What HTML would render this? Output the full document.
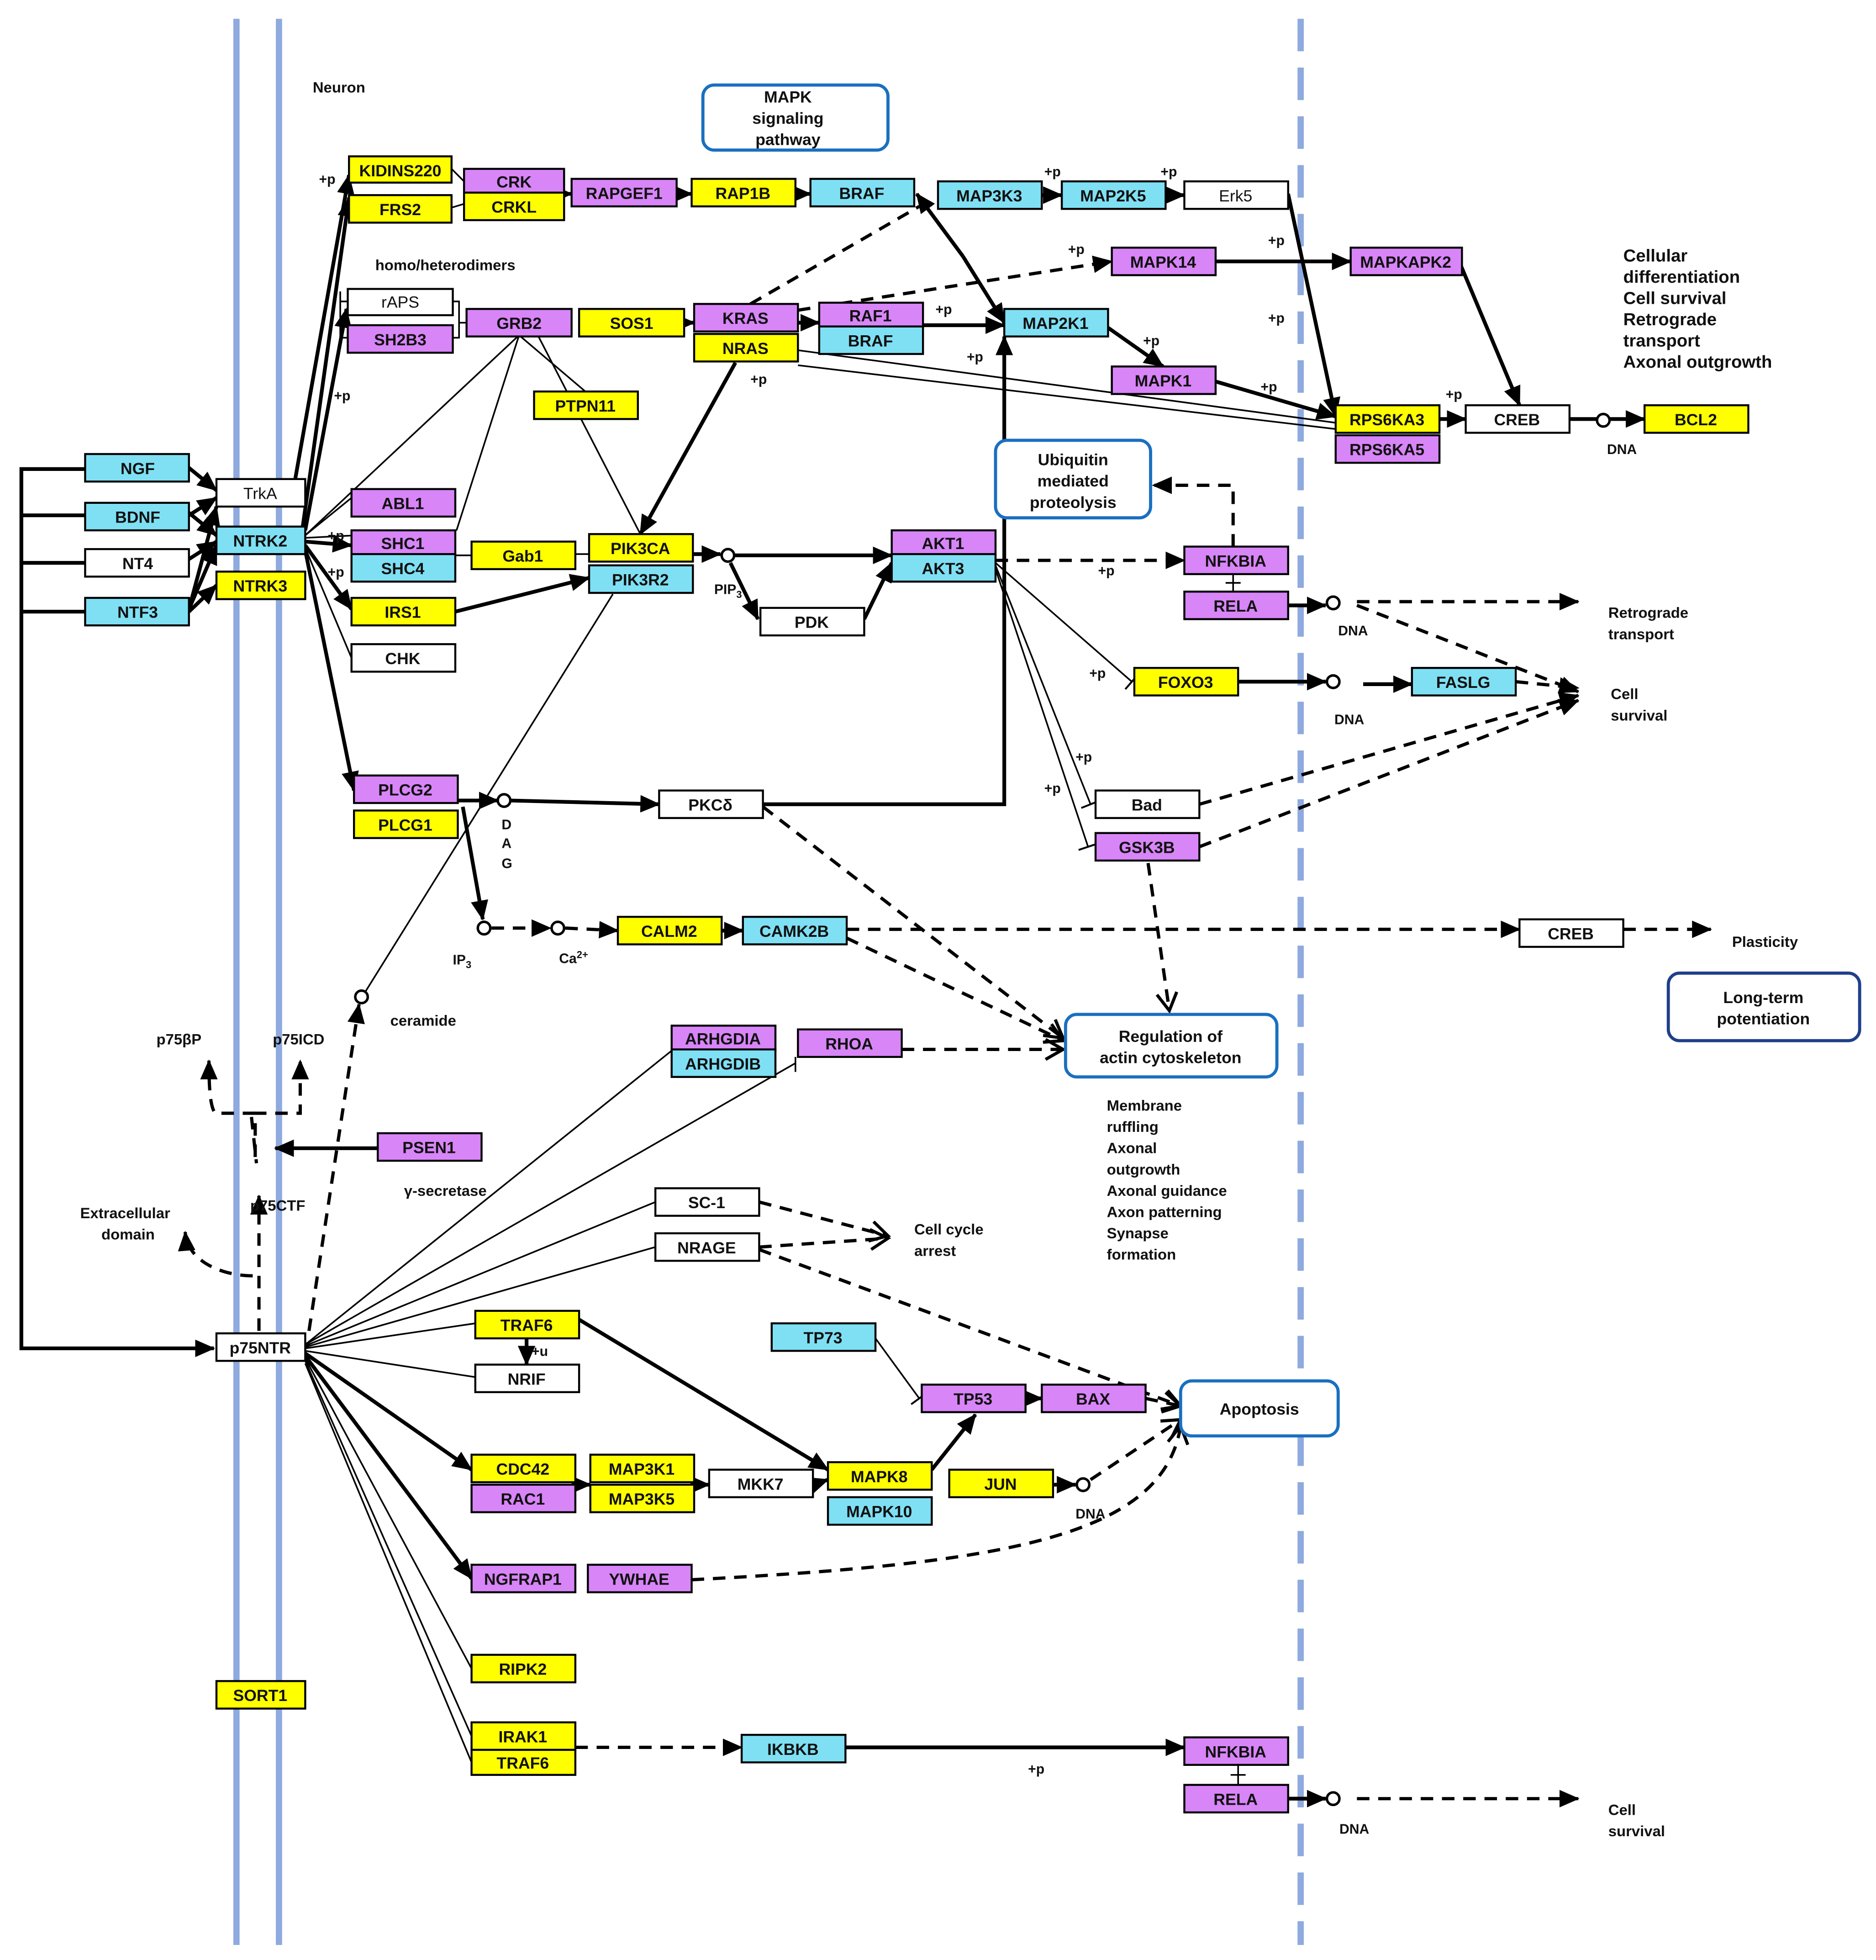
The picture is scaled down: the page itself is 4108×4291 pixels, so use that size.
<!DOCTYPE html>
<html><head><meta charset="utf-8"><style>
html,body{margin:0;padding:0;background:#fff}
svg{display:block}
text{font-family:"Liberation Sans",Arial,sans-serif;font-weight:bold;fill:#111}
.n{font-size:13px;text-anchor:middle}
.l{font-size:14px}
.s{font-size:12px}
.e{fill:none;stroke:#000;stroke-width:1.3}
.t{fill:none;stroke:#000;stroke-width:3}
.d{fill:none;stroke:#000;stroke-width:2.6;stroke-dasharray:10,7}
</style></head><body>
<svg width="4108" height="4291" viewBox="0 0 1500 1567" xmlns="http://www.w3.org/2000/svg">
<defs>
<marker id="a" markerUnits="userSpaceOnUse" markerWidth="16" markerHeight="14" refX="15" refY="7" orient="auto"><path d="M0,0 L16,7 L0,14 z" fill="#000"/></marker>
<marker id="v" markerUnits="userSpaceOnUse" markerWidth="18" markerHeight="18" refX="15" refY="9" orient="auto"><path d="M1,1 L15,9 L1,17" fill="none" stroke="#000" stroke-width="2.5"/></marker>
<marker id="b" markerUnits="userSpaceOnUse" markerWidth="4" markerHeight="16" refX="2" refY="8" orient="auto"><path d="M2,0 L2,16" stroke="#000" stroke-width="1.5"/></marker>
</defs>
<rect width="1500" height="1567" fill="#fff"/>
<line x1="189" y1="15" x2="189" y2="1555" stroke="#8eaade" stroke-width="5"/>
<line x1="223" y1="15" x2="223" y2="1555" stroke="#8eaade" stroke-width="5"/>
<line x1="1040" y1="15" x2="1040" y2="1555" stroke="#8eaade" stroke-width="5" stroke-dasharray="26,13"/>

<g>
<path class="t" d="M68,375 H17 V1078 H171" marker-end="url(#a)"/>
<path class="t" d="M17,412 H68 M17,450 H68 M17,489 H68"/>
<path class="t" d="M151,374 L173,392" marker-end="url(#a)"/>
<path class="t" d="M151,410 L173,428" marker-end="url(#a)"/>
<path class="t" d="M151,412 L173,398" marker-end="url(#a)"/>
<path class="t" d="M151,447 L173,433" marker-end="url(#a)"/>
<path class="t" d="M151,487 L173,405" marker-end="url(#a)"/>
<path class="t" d="M151,487 L173,436" marker-end="url(#a)"/>
<path class="t" d="M151,489 L173,468" marker-end="url(#a)"/>
<path class="t" d="M236,383 L279,140" marker-end="url(#a)"/>
<path class="t" d="M242,421 L279,158" marker-end="url(#a)"/>
<path class="t" d="M244,424 L277,247" marker-end="url(#a)"/>
<path class="e" d="M244,428 L281,398 M244,428 L415,268 M244,430 L365,424"/>
<path class="t" d="M244,433 L281,436" marker-end="url(#a)"/>
<path class="t" d="M244,436 L281,487" marker-end="url(#a)"/>
<path class="e" d="M244,438 L281,526"/>
<path class="t" d="M244,440 L283,632" marker-end="url(#a)"/>
<path class="e" d="M415,268 L365,424 M415,268 L468,313 M430,268 L512,427 M272,233 V270 H279 M272,241 H278 M357,241 H367 V270 H362 M367,258 H373"/>
<path class="e" d="M364,444 H377 M460,443 H471"/>
<path class="t" d="M364,489 L471,462" marker-end="url(#a)"/>
<path class="e" d="M361,135 L371,145 M361,166 L371,163"/>
<path class="t" d="M451,155 H457" marker-end="url(#a)"/>
<path class="t" d="M541,155 H553" marker-end="url(#a)"/>
<path class="t" d="M636,155 H648" marker-end="url(#a)"/>
<path class="t" d="M833,156 H849" marker-end="url(#a)"/>
<path class="t" d="M932,156 H947" marker-end="url(#a)"/>
<path class="t" d="M770,205 L733,155" marker-end="url(#a)"/>
<path class="t" d="M770,205 L803,258" marker-end="url(#a)"/>
<path class="t" d="M1030,155 L1068,333" marker-end="url(#a)"/>
<path class="d" d="M600,243 L735,165"/>
<path class="d" d="M638,248 L889,209" marker-end="url(#a)"/>
<path class="t" d="M547,258 H555" marker-end="url(#a)"/>
<path class="t" d="M638,258 H655" marker-end="url(#a)"/>
<path class="t" d="M738,260 H803" marker-end="url(#a)"/>
<path class="t" d="M886,262 L930,293" marker-end="url(#a)"/>
<path class="t" d="M972,209 H1080" marker-end="url(#a)"/>
<path class="t" d="M1168,212 L1215,324" marker-end="url(#a)"/>
<path class="t" d="M972,305 L1068,333" marker-end="url(#a)"/>
<path class="t" d="M1151,335 H1172" marker-end="url(#a)"/>
<path class="t" d="M1255,335 H1277"/>
<circle cx="1282" cy="336" r="5" fill="#fff" stroke="#000" stroke-width="2"/>
<path class="t" d="M1287,335 H1315" marker-end="url(#a)"/>
<path class="e" d="M638,280 L1068,338 M638,292 L1068,343"/>
<path class="t" d="M588,290 L512,427" marker-end="url(#a)"/>
<path class="t" d="M554,443 H576" marker-end="url(#a)"/>
<circle cx="582" cy="444" r="5" fill="#fff" stroke="#000" stroke-width="2"/>
<path class="t" d="M587,444 H713" marker-end="url(#a)"/>
<path class="t" d="M584,450 L606,495" marker-end="url(#a)"/>
<path class="t" d="M691,495 L713,450" marker-end="url(#a)"/>
<path class="d" d="M796,448 H947" marker-end="url(#a)"/>
<path class="d" d="M986,437 V388 H922" marker-end="url(#a)"/>
<path class="e" d="M986,459 V473 M980,466 H992"/>
<path class="t" d="M1030,484 H1060" marker-end="url(#a)"/>
<circle cx="1066" cy="482" r="5" fill="#fff" stroke="#000" stroke-width="2"/>
<path class="d" d="M1085,481 H1262" marker-end="url(#a)"/>
<path class="d" d="M1085,484 L1262,553" marker-end="url(#a)"/>
<path class="e" d="M796,450 L905,545" marker-end="url(#b)"/>
<path class="e" d="M796,452 L872,643" marker-end="url(#b)"/>
<path class="e" d="M796,455 L870,677" marker-end="url(#b)"/>
<path class="t" d="M990,545 H1060" marker-end="url(#a)"/>
<circle cx="1066" cy="545" r="5" fill="#fff" stroke="#000" stroke-width="2"/>
<path class="t" d="M1090,547 H1129" marker-end="url(#a)"/>
<path class="d" d="M1212,545 L1262,550" marker-end="url(#a)"/>
<path class="d" d="M959,643 L1262,556" marker-end="url(#a)"/>
<path class="d" d="M959,677 L1262,560" marker-end="url(#a)"/>
<path class="d" d="M918,690 L935,808" marker-end="url(#v)"/>
<path class="t" d="M366,640 H398" marker-end="url(#a)"/>
<circle cx="403" cy="640" r="5" fill="#fff" stroke="#000" stroke-width="2"/>
<path class="t" d="M408,640 L527,643" marker-end="url(#a)"/>
<path class="t" d="M610,643 H803 V269" marker-end="url(#a)"/>
<path class="t" d="M370,645 L386,735" marker-end="url(#a)"/>
<circle cx="387" cy="742" r="5" fill="#fff" stroke="#000" stroke-width="2"/>
<path class="d" d="M393,742 H440" marker-end="url(#a)"/>
<circle cx="446" cy="742" r="5" fill="#fff" stroke="#000" stroke-width="2"/>
<path class="d" d="M452,742 L494,744" marker-end="url(#a)"/>
<path class="t" d="M577,744 H594" marker-end="url(#a)"/>
<path class="d" d="M677,743 H1215" marker-end="url(#a)"/>
<path class="d" d="M1298,743 H1368" marker-end="url(#a)"/>
<path class="d" d="M677,750 L850,832" marker-end="url(#v)"/>
<path class="d" d="M610,645 L850,830" marker-end="url(#v)"/>
<path class="d" d="M721,839 H850" marker-end="url(#v)"/>
<path class="e" d="M490,475 L292,793"/>
<circle cx="289" cy="797" r="5" fill="#fff" stroke="#000" stroke-width="2"/>
<path class="d" d="M247,1064 L287,803" marker-end="url(#a)"/>
<path class="d" d="M207,1064 V956" marker-end="url(#a)"/>
<path class="d" d="M202,1020 C180,1020 150,1010 148,985" marker-end="url(#a)"/>
<path class="d" d="M204,925 V890 H240 V848" marker-end="url(#a)"/>
<path class="d" d="M204,890 H172 C168,885 167,870 167,848" marker-end="url(#a)"/>
<path class="d" d="M201,893 L205,930"/>
<path class="t" d="M302,918 H220" marker-end="url(#a)"/>
<path class="e" d="M244,1075 L537,840 M244,1075 L636,850 M244,1076 L524,961 M244,1077 L524,997 M244,1078 L380,1058 M244,1080 L380,1101"/>
<path class="e" d="M636,845 V857"/>
<path class="t" d="M244,1082 L377,1175" marker-end="url(#a)"/>
<path class="t" d="M244,1084 L377,1262" marker-end="url(#a)"/>
<path class="e" d="M244,1086 L377,1334 M244,1088 L377,1388 M244,1090 L377,1409"/>
<path class="d" d="M607,961 L710,988" marker-end="url(#v)"/>
<path class="d" d="M607,997 L710,990" marker-end="url(#v)"/>
<path class="d" d="M607,999 L944,1124" marker-end="url(#v)"/>
<path class="t" d="M463,1055 L662,1175" marker-end="url(#a)"/>
<path class="t" d="M421,1070 V1091" marker-end="url(#a)"/>
<path class="e" d="M700,1070 L735,1118" marker-end="url(#b)"/>
<path class="t" d="M820,1118 H833" marker-end="url(#a)"/>
<path class="d" d="M916,1118 L944,1124" marker-end="url(#v)"/>
<path class="t" d="M460,1187 H472" marker-end="url(#a)"/>
<path class="t" d="M555,1187 H567" marker-end="url(#a)"/>
<path class="t" d="M650,1187 L662,1183" marker-end="url(#a)"/>
<path class="t" d="M745,1175 L780,1131" marker-end="url(#a)"/>
<path class="t" d="M842,1187 H860" marker-end="url(#a)"/>
<circle cx="866" cy="1187" r="5" fill="#fff" stroke="#000" stroke-width="2"/>
<path class="d" d="M872,1183 L944,1135" marker-end="url(#v)"/>
<path class="d" d="M553,1263 C800,1250 930,1230 944,1140" marker-end="url(#v)"/>
<path class="d" d="M460,1397 H593" marker-end="url(#a)"/>
<path class="t" d="M676,1397 H947" marker-end="url(#a)"/>
<path class="e" d="M990,1411 V1427 M984,1419 H996"/>
<path class="t" d="M1030,1438 H1060" marker-end="url(#a)"/>
<circle cx="1066" cy="1438" r="5" fill="#fff" stroke="#000" stroke-width="2"/>
<path class="d" d="M1085,1438 H1262" marker-end="url(#a)"/>
</g>

<g stroke="#000" stroke-width="1.6">
<rect x="279" y="125" width="82" height="21" fill="#ffff00"/>
<rect x="279" y="156" width="82" height="22" fill="#ffff00"/>
<rect x="371" y="135" width="80" height="20" fill="#d885f8"/>
<rect x="371" y="154" width="80" height="22" fill="#ffff00"/>
<rect x="457" y="143" width="84" height="22" fill="#d885f8"/>
<rect x="553" y="143" width="83" height="22" fill="#ffff00"/>
<rect x="648" y="143" width="83" height="22" fill="#7fe0f4"/>
<rect x="750" y="145" width="83" height="22" fill="#7fe0f4"/>
<rect x="849" y="145" width="83" height="22" fill="#7fe0f4"/>
<rect x="947" y="145" width="83" height="22" fill="#fff"/>
<rect x="889" y="198" width="83" height="22" fill="#d885f8"/>
<rect x="1080" y="198" width="89" height="22" fill="#d885f8"/>
<rect x="278" y="231" width="84" height="21" fill="#fff"/>
<rect x="278" y="260" width="84" height="22" fill="#d885f8"/>
<rect x="373" y="247" width="84" height="22" fill="#d885f8"/>
<rect x="463" y="247" width="84" height="22" fill="#ffff00"/>
<rect x="555" y="243" width="83" height="22" fill="#d885f8"/>
<rect x="555" y="267" width="83" height="22" fill="#ffff00"/>
<rect x="655" y="242" width="83" height="20" fill="#d885f8"/>
<rect x="655" y="261" width="83" height="22" fill="#7fe0f4"/>
<rect x="803" y="247" width="83" height="22" fill="#7fe0f4"/>
<rect x="889" y="293" width="83" height="22" fill="#d885f8"/>
<rect x="1068" y="324" width="83" height="22" fill="#ffff00"/>
<rect x="1068" y="348" width="83" height="22" fill="#d885f8"/>
<rect x="1172" y="324" width="83" height="22" fill="#fff"/>
<rect x="1315" y="324" width="83" height="22" fill="#ffff00"/>
<rect x="427" y="313" width="83" height="22" fill="#ffff00"/>
<rect x="68" y="363" width="83" height="22" fill="#7fe0f4"/>
<rect x="68" y="402" width="83" height="22" fill="#7fe0f4"/>
<rect x="68" y="439" width="83" height="22" fill="#fff"/>
<rect x="68" y="478" width="83" height="22" fill="#7fe0f4"/>
<rect x="173" y="383" width="71" height="22" fill="#fff"/>
<rect x="173" y="421" width="71" height="22" fill="#7fe0f4"/>
<rect x="173" y="457" width="71" height="22" fill="#ffff00"/>
<rect x="281" y="391" width="83" height="22" fill="#d885f8"/>
<rect x="281" y="424" width="83" height="20" fill="#d885f8"/>
<rect x="281" y="443" width="83" height="22" fill="#7fe0f4"/>
<rect x="281" y="478" width="83" height="22" fill="#ffff00"/>
<rect x="281" y="515" width="83" height="22" fill="#fff"/>
<rect x="377" y="433" width="83" height="22" fill="#ffff00"/>
<rect x="471" y="427" width="83" height="22" fill="#ffff00"/>
<rect x="471" y="452" width="83" height="22" fill="#7fe0f4"/>
<rect x="713" y="424" width="83" height="20" fill="#d885f8"/>
<rect x="713" y="443" width="83" height="22" fill="#7fe0f4"/>
<rect x="608" y="486" width="83" height="22" fill="#fff"/>
<rect x="947" y="437" width="83" height="22" fill="#d885f8"/>
<rect x="947" y="473" width="83" height="22" fill="#d885f8"/>
<rect x="907" y="534" width="83" height="22" fill="#ffff00"/>
<rect x="1129" y="534" width="83" height="22" fill="#7fe0f4"/>
<rect x="876" y="632" width="83" height="22" fill="#fff"/>
<rect x="876" y="666" width="83" height="22" fill="#d885f8"/>
<rect x="283" y="620" width="83" height="22" fill="#d885f8"/>
<rect x="283" y="648" width="83" height="22" fill="#ffff00"/>
<rect x="527" y="632" width="83" height="22" fill="#fff"/>
<rect x="494" y="733" width="83" height="22" fill="#ffff00"/>
<rect x="594" y="733" width="83" height="22" fill="#7fe0f4"/>
<rect x="1215" y="735" width="83" height="22" fill="#fff"/>
<rect x="537" y="820" width="83" height="20" fill="#d885f8"/>
<rect x="537" y="839" width="83" height="22" fill="#7fe0f4"/>
<rect x="638" y="823" width="83" height="22" fill="#d885f8"/>
<rect x="302" y="906" width="83" height="22" fill="#d885f8"/>
<rect x="524" y="950" width="83" height="22" fill="#fff"/>
<rect x="524" y="986" width="83" height="22" fill="#fff"/>
<rect x="380" y="1048" width="83" height="22" fill="#ffff00"/>
<rect x="380" y="1091" width="83" height="22" fill="#fff"/>
<rect x="173" y="1066" width="71" height="22" fill="#fff"/>
<rect x="617" y="1058" width="83" height="22" fill="#7fe0f4"/>
<rect x="737" y="1107" width="83" height="22" fill="#d885f8"/>
<rect x="833" y="1107" width="83" height="22" fill="#d885f8"/>
<rect x="377" y="1163" width="83" height="22" fill="#ffff00"/>
<rect x="377" y="1187" width="83" height="22" fill="#d885f8"/>
<rect x="472" y="1163" width="83" height="22" fill="#ffff00"/>
<rect x="472" y="1187" width="83" height="22" fill="#ffff00"/>
<rect x="567" y="1175" width="83" height="22" fill="#fff"/>
<rect x="662" y="1169" width="83" height="22" fill="#ffff00"/>
<rect x="662" y="1197" width="83" height="22" fill="#7fe0f4"/>
<rect x="759" y="1175" width="83" height="22" fill="#ffff00"/>
<rect x="377" y="1251" width="83" height="22" fill="#d885f8"/>
<rect x="470" y="1251" width="83" height="22" fill="#d885f8"/>
<rect x="377" y="1323" width="83" height="22" fill="#ffff00"/>
<rect x="173" y="1344" width="71" height="22" fill="#ffff00"/>
<rect x="377" y="1377" width="83" height="22" fill="#ffff00"/>
<rect x="377" y="1399" width="83" height="20" fill="#ffff00"/>
<rect x="593" y="1387" width="83" height="22" fill="#7fe0f4"/>
<rect x="947" y="1389" width="83" height="22" fill="#d885f8"/>
<rect x="947" y="1427" width="83" height="22" fill="#d885f8"/>
</g>
<g fill="#fff" stroke="#1a6fc0" stroke-width="2.5">
<rect x="562" y="68" width="148" height="52" rx="9"/>
<rect x="796" y="352" width="124" height="62" rx="9"/>
<rect x="852" y="811" width="169" height="50" rx="9"/>
<rect x="944" y="1104" width="126" height="44" rx="9"/>
<rect x="1334" y="778" width="153" height="54" rx="9" stroke="#1f3f8a"/>
</g>

<g class="n">
<text x="320" y="141">KIDINS220</text><text x="320" y="172">FRS2</text>
<text x="411" y="150">CRK</text><text x="411" y="170">CRKL</text>
<text x="499" y="159">RAPGEF1</text><text x="594" y="159">RAP1B</text><text x="689" y="159">BRAF</text>
<text x="791" y="161">MAP3K3</text><text x="890" y="161">MAP2K5</text><text x="988" y="161" style="font-weight:normal">Erk5</text>
<text x="930" y="214">MAPK14</text><text x="1124" y="214">MAPKAPK2</text>
<text x="320" y="246" style="font-weight:normal">rAPS</text><text x="320" y="276">SH2B3</text>
<text x="415" y="263">GRB2</text><text x="505" y="263">SOS1</text>
<text x="596" y="259">KRAS</text><text x="596" y="283">NRAS</text>
<text x="696" y="257">RAF1</text><text x="696" y="277">BRAF</text>
<text x="844" y="263">MAP2K1</text><text x="930" y="309">MAPK1</text>
<text x="1109" y="340">RPS6KA3</text><text x="1109" y="364">RPS6KA5</text>
<text x="1213" y="340">CREB</text><text x="1356" y="340">BCL2</text>
<text x="468" y="329">PTPN11</text>
<text x="110" y="379">NGF</text><text x="110" y="418">BDNF</text><text x="110" y="455">NT4</text><text x="110" y="494">NTF3</text>
<text x="208" y="399" style="font-weight:normal">TrkA</text><text x="208" y="437">NTRK2</text><text x="208" y="473">NTRK3</text>
<text x="322" y="407">ABL1</text><text x="322" y="439">SHC1</text><text x="322" y="459">SHC4</text>
<text x="322" y="494">IRS1</text><text x="322" y="531">CHK</text>
<text x="418" y="449">Gab1</text><text x="512" y="443">PIK3CA</text><text x="512" y="468">PIK3R2</text>
<text x="754" y="439">AKT1</text><text x="754" y="459">AKT3</text><text x="649" y="502">PDK</text>
<text x="988" y="453">NFKBIA</text><text x="988" y="489">RELA</text>
<text x="948" y="550">FOXO3</text><text x="1170" y="550">FASLG</text>
<text x="917" y="648">Bad</text><text x="917" y="682">GSK3B</text>
<text x="324" y="636">PLCG2</text><text x="324" y="664">PLCG1</text>
<text x="568" y="648">PKCδ</text><text x="535" y="749">CALM2</text><text x="635" y="749">CAMK2B</text>
<text x="1256" y="751">CREB</text>
<text x="578" y="835">ARHGDIA</text><text x="578" y="855">ARHGDIB</text><text x="679" y="839">RHOA</text>
<text x="343" y="922">PSEN1</text><text x="565" y="966">SC-1</text><text x="565" y="1002">NRAGE</text>
<text x="421" y="1064">TRAF6</text><text x="421" y="1107">NRIF</text><text x="208" y="1082">p75NTR</text>
<text x="658" y="1074">TP73</text><text x="778" y="1123">TP53</text><text x="874" y="1123">BAX</text>
<text x="418" y="1179">CDC42</text><text x="418" y="1203">RAC1</text>
<text x="513" y="1179">MAP3K1</text><text x="513" y="1203">MAP3K5</text>
<text x="608" y="1191">MKK7</text><text x="703" y="1185">MAPK8</text><text x="703" y="1213">MAPK10</text>
<text x="800" y="1191">JUN</text>
<text x="418" y="1267">NGFRAP1</text><text x="511" y="1267">YWHAE</text>
<text x="418" y="1339">RIPK2</text><text x="208" y="1360">SORT1</text>
<text x="418" y="1393">IRAK1</text><text x="418" y="1414">TRAF6</text>
<text x="634" y="1403">IKBKB</text><text x="988" y="1405">NFKBIA</text><text x="988" y="1443">RELA</text>
<text x="630" y="82">MAPK</text><text x="630" y="99">signaling</text><text x="630" y="116">pathway</text>
<text x="858" y="372">Ubiquitin</text><text x="858" y="389">mediated</text><text x="858" y="406">proteolysis</text>
<text x="936" y="833">Regulation of</text><text x="936" y="850">actin cytoskeleton</text>
<text x="1007" y="1131">Apoptosis</text>
<text x="1410" y="802">Long-term</text><text x="1410" y="819">potentiation</text>
</g>

<g class="l">
<text x="250" y="74" class="s">Neuron</text>
<text x="300" y="216" class="s">homo/heterodimers</text>
<text x="1298" y="209">Cellular</text><text x="1298" y="226">differentiation</text><text x="1298" y="243">Cell survival</text>
<text x="1298" y="260">Retrograde</text><text x="1298" y="277">transport</text><text x="1298" y="294">Axonal outgrowth</text>
<text x="1286" y="494" class="s">Retrograde</text><text x="1286" y="511" class="s">transport</text>
<text x="1288" y="559" class="s">Cell</text><text x="1288" y="576" class="s">survival</text>
<text x="1385" y="757" class="s">Plasticity</text>
<text x="312" y="820" class="s">ceramide</text>
<text x="125" y="835" class="s">p75βP</text><text x="218" y="835" class="s">p75ICD</text>
<text x="323" y="956" class="s">γ-secretase</text>
<text x="200" y="968" class="s">p75CTF</text>
<text x="64" y="974" class="s">Extracellular</text><text x="81" y="991" class="s">domain</text>
<text x="731" y="987" class="s">Cell cycle</text><text x="731" y="1004" class="s">arrest</text>
<text x="885" y="888" class="s">Membrane</text><text x="885" y="905" class="s">ruffling</text><text x="885" y="922" class="s">Axonal</text>
<text x="885" y="939" class="s">outgrowth</text><text x="885" y="956" class="s">Axonal guidance</text><text x="885" y="973" class="s">Axon patterning</text>
<text x="885" y="990" class="s">Synapse</text><text x="885" y="1007" class="s">formation</text>
<text x="1286" y="1451" class="s">Cell</text><text x="1286" y="1468" class="s">survival</text>
</g>
<g style="font-size:11px">
<text x="1285" y="363">DNA</text><text x="1070" y="508">DNA</text><text x="1067" y="579">DNA</text>
<text x="860" y="1214">DNA</text><text x="1071" y="1466">DNA</text>
<text x="571" y="475">PIP<tspan font-size="8" dy="3">3</tspan></text>
<text x="362" y="771">IP<tspan font-size="8" dy="3">3</tspan></text>
<text x="447" y="770">Ca<tspan font-size="8" dy="-4">2+</tspan></text>
<text x="401" y="663">D</text><text x="401" y="678">A</text><text x="401" y="694">G</text>
<text x="255" y="147">+p</text><text x="267" y="320">+p</text><text x="262" y="432">+p</text><text x="262" y="461">+p</text>
<text x="835" y="141">+p</text><text x="928" y="141">+p</text><text x="854" y="203">+p</text>
<text x="1014" y="196">+p</text><text x="1014" y="258">+p</text><text x="748" y="251">+p</text>
<text x="914" y="276">+p</text><text x="773" y="289">+p</text><text x="1008" y="313">+p</text>
<text x="1156" y="319">+p</text><text x="600" y="307">+p</text><text x="878" y="460">+p</text>
<text x="871" y="542">+p</text><text x="860" y="609">+p</text><text x="835" y="634">+p</text>
<text x="425" y="1084">+u</text><text x="822" y="1418">+p</text>
</g>
</svg>
</body></html>
